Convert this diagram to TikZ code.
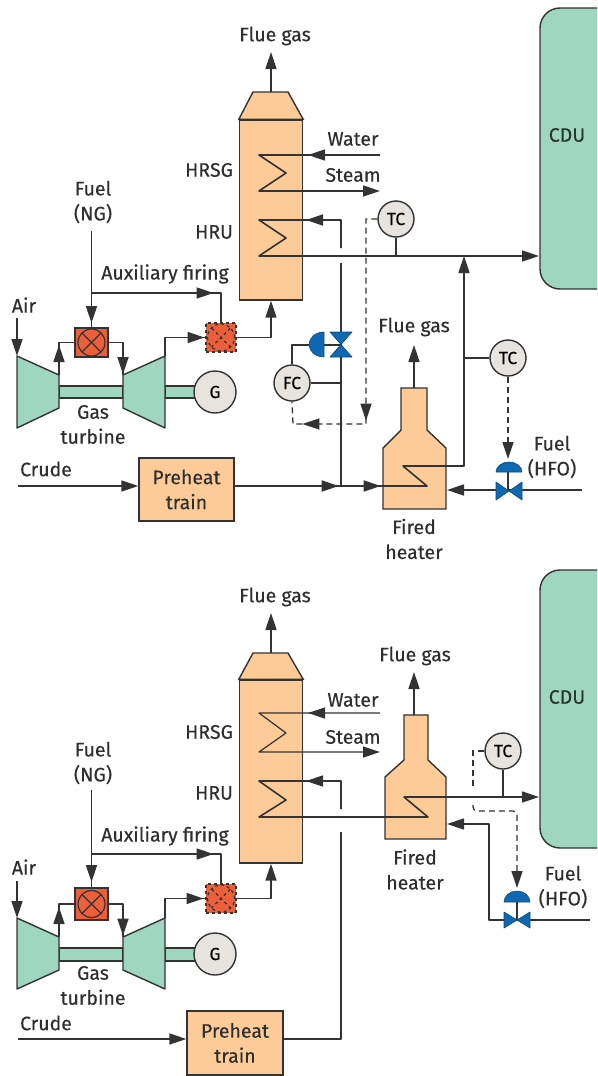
\documentclass[tikz,border=0pt]{standalone}
\usepackage{fontspec}
\setmainfont{Fira Sans}[FakeBold=0.25]
\usetikzlibrary{arrows.meta,decorations.markings}
\definecolor{linegray}{HTML}{333333}
\definecolor{unitorange}{HTML}{FCCB97}
\definecolor{turbgreen}{HTML}{9FD6BF}
\definecolor{burnred}{HTML}{EC5F3B}
\definecolor{valveblue}{HTML}{1068B2}
\definecolor{ringgray}{HTML}{E7E3DF}
\tikzset{
  pipe/.style={line width=1.6pt,draw=linegray,line join=round},
  thinpipe/.style={line width=1.2pt,draw=linegray,line join=round},
  signal/.style={line width=1.3pt,draw=linegray,dash pattern=on 6pt off 4pt},
  flowmark/.style={postaction={decorate,decoration={markings,mark=at position #1 with {\arrow{>}}}}},
  txt/.style={inner sep=0pt,align=center,text=black!82,font=\fontsize{19.5}{25}\selectfont},
  unitbox/.style={draw=linegray,line width=1.4pt,fill=unitorange,inner sep=0pt},
  turbshape/.style={draw=linegray,line width=1.4pt,fill=turbgreen,line join=round},
  ctrl/.style={circle,draw=linegray,line width=1.4pt,fill=ringgray,minimum size=36pt,inner sep=0pt,font=\fontsize{17.5}{18}\selectfont},
  burner/.style={draw=linegray,line width=1.2pt,fill=burnred,inner sep=0pt},
  xring/.style={circle,draw=linegray,line width=1.2pt,inner sep=0pt,minimum size=27pt,path picture={
    \draw[linegray,line width=1.2pt] (path picture bounding box.north west) -- (path picture bounding box.south east);
    \draw[linegray,line width=1.2pt] (path picture bounding box.north east) -- (path picture bounding box.south west);}},
  valvepart/.style={fill=valveblue,draw=valveblue!70!black,line width=.6pt,line join=round}
}
\begin{document}
\begin{tikzpicture}[x=1pt,y=-1pt,>={Triangle[length=17pt,width=11pt]}]
\useasboundingbox (0,0) rectangle (597,1076);
\fill[white] (0,0) rectangle (597,1076);

\draw[turbshape,rounded corners=20pt,fill=turbgreen] (597,8) -- (540,8) -- (540,289) -- (597,289);
\node[txt,text=black!75!turbgreen] (cduA) at (567,135) {CDU};
\coordinate (cduInA) at (539,256);
\node[unitbox,minimum width=63pt,minimum height=180pt] (hrsgA) at (271,210) {};
\draw[unitbox] (hrsgA.north west) -- (253,92) -- (288,92) -- (hrsgA.north east) -- cycle;
\coordinate (hatA) at (271,92);
\coordinate (flueEndA) at (271,52);
\node[txt] (flueTextA) at (275,36) {Flue gas};
\node[txt] (hrsgTextA) at (209,170) {HRSG};
\node[txt] (hruTextA) at (214,232) {HRU};
\node[txt] (waterTextA) at (353,139) {Water};
\node[txt] (steamTextA) at (353,175) {Steam};
\coordinate (waterA) at (380,155);
\coordinate (steamA) at (380,191);
\coordinate (coilAa) at (259,155);
\coordinate (coilAb) at (286,173);
\coordinate (coilAc) at (259,191);
\coordinate (coilAd) at (259,220);
\coordinate (coilAe) at (286,238);
\coordinate (coilAf) at (259,256);
\coordinate (hruUpA) at (341,248);
\coordinate (hruLowA) at (341,263);
\coordinate (hruTopA) at (341,220);
\coordinate (jointA) at (341,486);
\draw[pipe,->,flowmark=72pt] (waterA) -- (coilAa) -- (coilAb) -- (coilAc) -- (steamA);
\draw[pipe,->,flowmark=63pt] (hruUpA) -- (hruTopA) -- (coilAd) -- (coilAe) -- (coilAf) -- (cduInA);
\draw[pipe] (jointA) -- (hruLowA);
\draw[pipe,->] (hatA) -- (flueEndA);

\node[ctrl] (tcTopA) at (396,219) {TC};
\coordinate (tcFootA) at (396,256);
\draw[pipe] (tcTopA.south) -- (tcFootA);
\coordinate (sigAa) at (366,424);
\coordinate (sigAb) at (293,424);
\node[ctrl] (fcA) at (292,383) {FC};
\draw[signal,flowmark=213pt,flowmark=280pt] (tcTopA.west) -| (sigAa) -- (sigAb) -- (fcA.south);
\coordinate (valveA) at (341,345);
\coordinate (actA) at (324,345);
\draw[pipe] (fcA.east) -- (fcA.east -| valveA);
\draw[pipe] (fcA.north) |- (actA) -- (valveA);
\draw[valvepart] (330,332) -- (352,332) -- (330,357) -- (352,357) -- cycle;
\draw[valvepart] (324,332) arc (90:270:15pt and 12.5pt) -- cycle;

\draw[unitbox] (383,509) -- (383,448) -- (401,430) -- (401,388) -- (427,388) -- (427,430) -- (446,448) -- (446,509) -- cycle;
\coordinate (stackA) at (414,388);
\coordinate (stackEndA) at (414,345);
\draw[pipe,->] (stackA) -- (stackEndA);
\node[txt] (flueStackA) at (414,327) {Flue gas};
\node[txt] (firedA) at (414,539) {Fired\\heater};
\node[unitbox,minimum width=95pt,minimum height=63pt,txt] (preA) at (186.5,489.5) {Preheat\\train};
\coordinate (crudeA) at (18,486);
\node[txt] (crudeTextA) at (46,469) {Crude};
\draw[pipe,->] (crudeA) -- (crudeA -| preA.west);
\coordinate (bendAa) at (427,486);
\coordinate (bendAb) at (403,466);
\coordinate (bendAc) at (464,466);
\coordinate (riserA) at (464,256);
\draw[pipe,->,flowmark=104pt,flowmark=146pt] (preA.east |- crudeA) -- (bendAa) -- (bendAb) -- (bendAc) -- (riserA);

\node[ctrl] (tcHeatA) at (508,358) {TC};
\draw[pipe] (tcHeatA.west) -- (tcHeatA.west -| riserA);
\coordinate (domeTipA) at (508,459);
\draw[signal,->] (tcHeatA.south) -- (domeTipA);
\coordinate (hfoA) at (582,490);
\coordinate (heatInA) at (447,490);
\coordinate (hfoValveA) at (508,490);
\draw[pipe,->] (hfoA) -- (heatInA);
\draw[pipe] (508,472) -- (hfoValveA);
\draw[valvepart] (496,472) arc (180:0:13pt and 10pt) -- cycle;
\draw[valvepart] (496,482) -- (496,500) -- (522,482) -- (522,500) -- cycle;
\node[txt] (hfoTextA) at (552,457) {Fuel\\(HFO)};

\coordinate (compAa) at (17,356);
\coordinate (compAb) at (59,375);
\coordinate (turbAa) at (123,375);
\coordinate (turbAb) at (165,356);
\draw[turbshape] (59,386) rectangle (123,398);
\draw[turbshape] (165,386) rectangle (197,398);
\draw[turbshape] (compAa) -- (compAb) -- (59,408) -- (17,428) -- cycle;
\draw[turbshape] (turbAa) -- (turbAb) -- (165,428) -- (123,408) -- cycle;
\node[ctrl,minimum size=42pt] (genA) at (215,392) {G};
\node[txt] (gasA) at (93,424.5) {Gas\\turbine};
\node[txt] (airTextA) at (24,305) {Air};
\coordinate (airA) at (17,318);
\draw[pipe,->] (airA) -- (compAa);
\node[burner,minimum width=33pt,minimum height=29pt] (combA) at (91.5,342.5) {};
\node[xring] at (combA) {};
\node[burner,minimum width=30pt,minimum height=29pt,dashed] (burnA) at (221,337.5) {};
\node[xring,dashed] at (burnA) {};
\node[txt] (fuelTextA) at (93,202) {Fuel\\(NG)};
\node[txt] (auxTextA) at (165,274) {Auxiliary firing};
\coordinate (fuelA) at (91.5,231);
\coordinate (auxJointA) at (91.5,293);
\draw[pipe,flowmark=92pt] (fuelA) -- (combA.north);
\draw[pipe,flowmark=122pt] (auxJointA) -| (burnA.north);
\draw[pipe,flowmark=30pt] (compAb) |- (combA.west);
\draw[pipe,flowmark=46pt] (combA.east) -| (turbAa);
\draw[pipe,flowmark=58pt] (turbAb) |- (burnA.west);
\draw[pipe,->] (burnA.east) -| (hrsgA.south);

\draw[turbshape,rounded corners=20pt,fill=turbgreen] (597,570) -- (540,570) -- (540,848) -- (597,848);
\node[txt,text=black!75!turbgreen] (cduB) at (567,697) {CDU};
\coordinate (cduInB) at (539,797);
\node[unitbox,minimum width=63pt,minimum height=183pt] (hrsgB) at (271,771.5) {};
\draw[unitbox] (hrsgB.north west) -- (253,653) -- (288,653) -- (hrsgB.north east) -- cycle;
\coordinate (hatB) at (271,653);
\coordinate (flueEndB) at (271,613);
\node[txt] (flueTextB) at (275,597) {Flue gas};
\node[txt] (hrsgTextB) at (209,732) {HRSG};
\node[txt] (hruTextB) at (214,793) {HRU};
\node[txt] (waterTextB) at (353,700) {Water};
\node[txt] (steamTextB) at (353,737) {Steam};
\draw[unitbox] (385,839) -- (385,777) -- (404,760) -- (404,715) -- (428,715) -- (428,760) -- (446,777) -- (446,839) -- cycle;
\coordinate (stackB) at (414,715);
\coordinate (stackEndB) at (414,672);
\draw[pipe,->] (stackB) -- (stackEndB);
\node[txt] (flueStackB) at (415,656) {Flue gas};
\node[txt] (firedB) at (415,869.5) {Fired\\heater};
\coordinate (waterB) at (380,713);
\coordinate (steamB) at (380,752);
\coordinate (coilBa) at (259,713);
\coordinate (coilBb) at (286,733);
\coordinate (coilBc) at (259,752);
\coordinate (coilBd) at (259,781);
\coordinate (coilBe) at (286,800);
\coordinate (coilBf) at (259,817);
\coordinate (bendBa) at (428,817);
\coordinate (bendBb) at (404,797);
\coordinate (hruUpB) at (341,809);
\coordinate (hruLowB) at (341,832);
\coordinate (hruTopB) at (341,781);
\draw[thinpipe,->,flowmark=72pt] (waterB) -- (coilBa) -- (coilBb) -- (coilBc) -- (steamB);
\draw[pipe,->,flowmark=63pt] (hruUpB) -- (hruTopB) -- (coilBd) -- (coilBe) -- (coilBf) -- (bendBa) -- (bendBb) -- (cduInB);
\draw[pipe,->] (hatB) -- (flueEndB);

\node[unitbox,minimum width=96pt,minimum height=64pt,txt] (preB) at (235,1043) {Preheat\\train};
\coordinate (crudeB) at (18,1039);
\node[txt] (crudeTextB) at (46,1023) {Crude};
\draw[pipe,->] (crudeB) -- (crudeB -| preB.west);
\draw[pipe] (preB.east |- crudeB) -| (hruLowB);

\node[ctrl] (tcB) at (503,751) {TC};
\coordinate (tcFootB) at (503,797);
\draw[pipe] (tcB.south) -- (tcFootB);
\coordinate (sigBa) at (473,788);
\coordinate (sigBb) at (473,805);
\coordinate (sigBc) at (517,811);
\coordinate (domeTipB) at (517,888);
\draw[signal] (tcB.west) -| (sigBa);
\draw[signal,->,rounded corners=4pt] (sigBb) |- (sigBc) -- (domeTipB);
\coordinate (hfoB) at (590,920);
\coordinate (hfoBendB) at (489,920);
\coordinate (heatInB) at (447,824);
\coordinate (hfoValveB) at (517,920);
\draw[pipe,->] (hfoB) -- (hfoBendB) |- (heatInB);
\draw[pipe] (517,902) -- (hfoValveB);
\draw[valvepart] (504,902) arc (180:0:13pt and 11pt) -- cycle;
\draw[valvepart] (504,912) -- (504,928) -- (530,912) -- (530,928) -- cycle;
\node[txt] (hfoTextB) at (563,887) {Fuel\\(HFO)};

\coordinate (compBa) at (17,918);
\coordinate (compBb) at (59,937);
\coordinate (turbBa) at (123,937);
\coordinate (turbBb) at (165,918);
\draw[turbshape] (59,948) rectangle (123,961);
\draw[turbshape] (165,948) rectangle (197,961);
\draw[turbshape] (compBa) -- (compBb) -- (59,970) -- (17,989) -- cycle;
\draw[turbshape] (turbBa) -- (turbBb) -- (165,989) -- (123,970) -- cycle;
\node[ctrl,minimum size=42pt] (genB) at (215,954) {G};
\node[txt] (gasB) at (93,985.5) {Gas\\turbine};
\node[txt] (airTextB) at (24,867) {Air};
\coordinate (airB) at (17,881);
\draw[pipe,->] (airB) -- (compBa);
\node[burner,minimum width=33pt,minimum height=32pt] (combB) at (91.5,904) {};
\node[xring] at (combB) {};
\node[burner,minimum width=30pt,minimum height=29pt,dashed] (burnB) at (221,898.5) {};
\node[xring,dashed] at (burnB) {};
\node[txt] (fuelTextB) at (93,763) {Fuel\\(NG)};
\node[txt] (auxTextB) at (165,836) {Auxiliary firing};
\coordinate (fuelB) at (91.5,790);
\coordinate (auxJointB) at (91.5,854);
\draw[pipe,flowmark=92pt] (fuelB) -- (combB.north);
\draw[pipe,flowmark=122pt] (auxJointB) -| (burnB.north);
\draw[pipe,flowmark=30pt] (compBb) |- (combB.west);
\draw[pipe,flowmark=46pt] (combB.east) -| (turbBa);
\draw[pipe,flowmark=58pt] (turbBb) |- (burnB.west);
\draw[pipe,->] (burnB.east) -| (hrsgB.south);
\end{tikzpicture}
\end{document}
